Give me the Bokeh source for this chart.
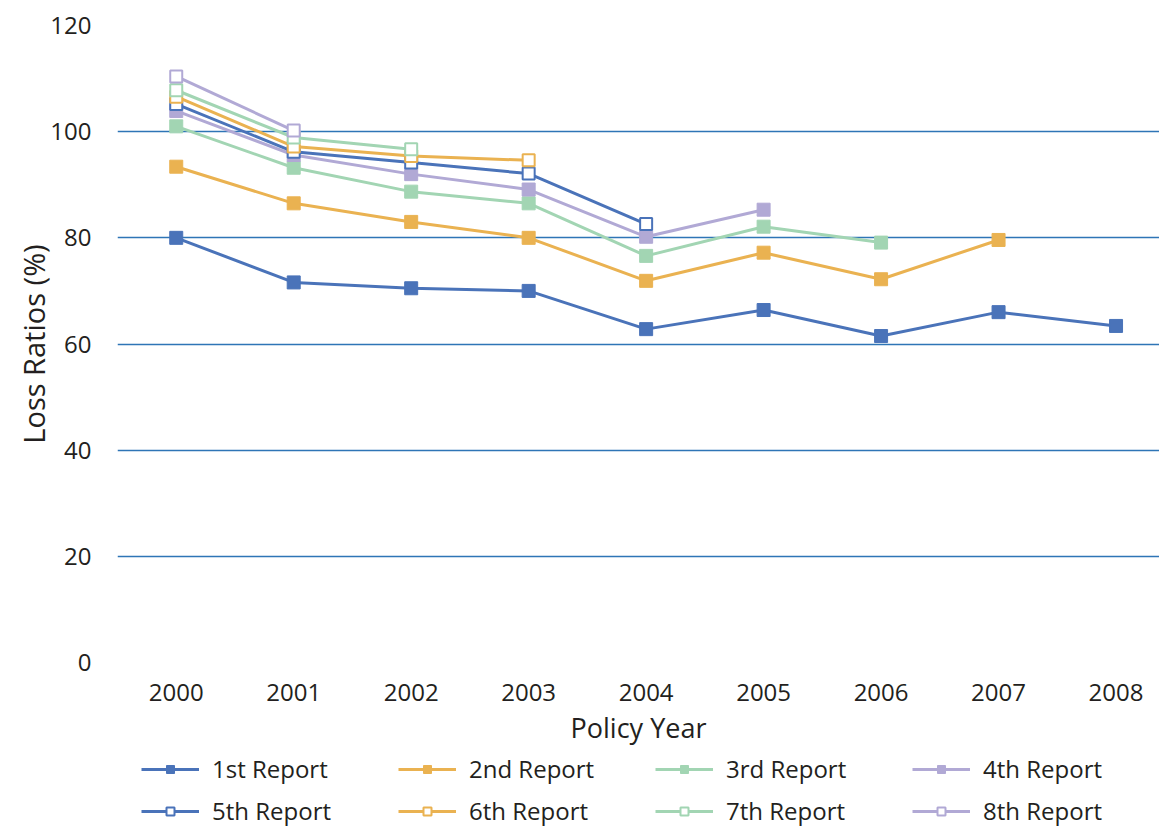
from bokeh.plotting import figure
from bokeh.layouts import column
from bokeh.models import Range1d, FixedTicker, Legend, LegendItem
from bokeh.embed import file_html
from bokeh.resources import INLINE

# Policy years and loss ratios (%) by report
years = [2000, 2001, 2002, 2003, 2004, 2005, 2006, 2007, 2008]

report_1 = [80.0, 71.6, 70.5, 70.0, 62.8, 66.4, 61.5, 66.0, 63.4]
report_2 = [93.4, 86.5, 83.0, 80.0, 71.9, 77.2, 72.2, 79.6]
report_3 = [101.0, 93.2, 88.7, 86.5, 76.6, 82.1, 79.1]
report_4 = [103.9, 95.6, 92.0, 89.1, 80.2, 85.3]
report_5 = [105.2, 96.2, 94.2, 92.1, 82.6]
report_6 = [106.6, 97.2, 95.4, 94.6]
report_7 = [107.8, 98.9, 96.7]
report_8 = [110.4, 100.2]

labels = ["1st Report", "2nd Report", "3rd Report", "4th Report",
          "5th Report", "6th Report", "7th Report", "8th Report"]
series = [report_1, report_2, report_3, report_4,
          report_5, report_6, report_7, report_8]

y_ticks = [0, 20, 40, 60, 80, 100, 120]

BLUE = "#4A73B9"
ORANGE = "#EAB251"
GREEN = "#A2D5B3"
PURPLE = "#B1A9D5"
colors = [BLUE, ORANGE, GREEN, PURPLE, BLUE, ORANGE, GREEN, PURPLE]
hollow = [False, False, False, False, True, True, True, True]

FONT = "Open Sans"
TEXT = "#231F20"
W = 1159
MAIN_H = 750
LEG_H = 827 - MAIN_H


def marker_style(col, open_):
    return dict(marker="square", size=12 if open_ else 13,
                fill_color="white" if open_ else col,
                line_color=col, line_width=2 if open_ else 1)


p = figure(width=W, height=MAIN_H, output_backend="svg", toolbar_location=None,
           x_range=Range1d(1999.5, 2008.37), y_range=Range1d(0, 120),
           min_border_left=117, min_border_right=0, min_border_top=25,
           min_border_bottom=MAIN_H - 662)
p.outline_line_color = None
p.border_fill_color = "white"

for vals, col, open_ in zip(series, colors, hollow):
    xs = years[:len(vals)]
    p.line(xs, vals, line_color=col, line_width=3)
    p.scatter(xs, vals, **marker_style(col, open_))

# Axes
p.xaxis.ticker = FixedTicker(ticks=years)
p.yaxis.ticker = FixedTicker(ticks=y_ticks)
for ax in (p.xaxis[0], p.yaxis[0]):
    ax.axis_line_color = None
    ax.major_tick_line_color = None
    ax.minor_tick_line_color = None
    ax.major_label_text_font = FONT
    ax.major_label_text_font_size = "24px"
    ax.major_label_text_color = TEXT
    ax.axis_label_text_font = FONT
    ax.axis_label_text_font_style = "normal"
    ax.axis_label_text_color = TEXT

p.xaxis.axis_label = "Policy Year"
p.yaxis.axis_label = "Loss Ratios (%)"
p.xaxis.axis_label_text_font_size = "27px"
p.yaxis.axis_label_text_font_size = "29px"
p.xaxis.major_label_standoff = 15
p.xaxis.axis_label_standoff = 5
p.yaxis.major_label_standoff = 20
p.yaxis.axis_label_standoff = -6

p.xgrid.grid_line_color = None
p.ygrid.grid_line_color = "#2E75B6"
p.ygrid.grid_line_width = 1.3

# Legend strip under the chart; its renderers hold the same series but
# sit outside the strip's visible range, so only the legend shows.
leg = figure(width=W, height=LEG_H, output_backend="svg", toolbar_location=None,
             x_range=Range1d(0, 1), y_range=Range1d(0, 1), min_border=0)
leg.axis.visible = False
leg.grid.grid_line_color = None
leg.outline_line_color = None

items = []
for vals, lab, col, open_ in zip(series, labels, colors, hollow):
    xs = years[:len(vals)]
    ln = leg.line(xs, vals, line_color=col, line_width=3)
    sc = leg.scatter(xs, vals, **marker_style(col, open_))
    items.append(LegendItem(label=lab, renderers=[ln, sc]))

legend = Legend(items=items, orientation="horizontal", ncols=4,
                location=(24, 0), label_text_font=FONT,
                label_text_font_size="24px", label_text_color=TEXT,
                glyph_width=58, glyph_height=20, label_standoff=13,
                label_width=177, label_height=20, spacing=9,
                padding=0, margin=0, border_line_color=None,
                background_fill_alpha=0)
leg.add_layout(legend)

layout = column(p, leg, spacing=0)
open("out.html", "w").write(file_html(layout, INLINE))
